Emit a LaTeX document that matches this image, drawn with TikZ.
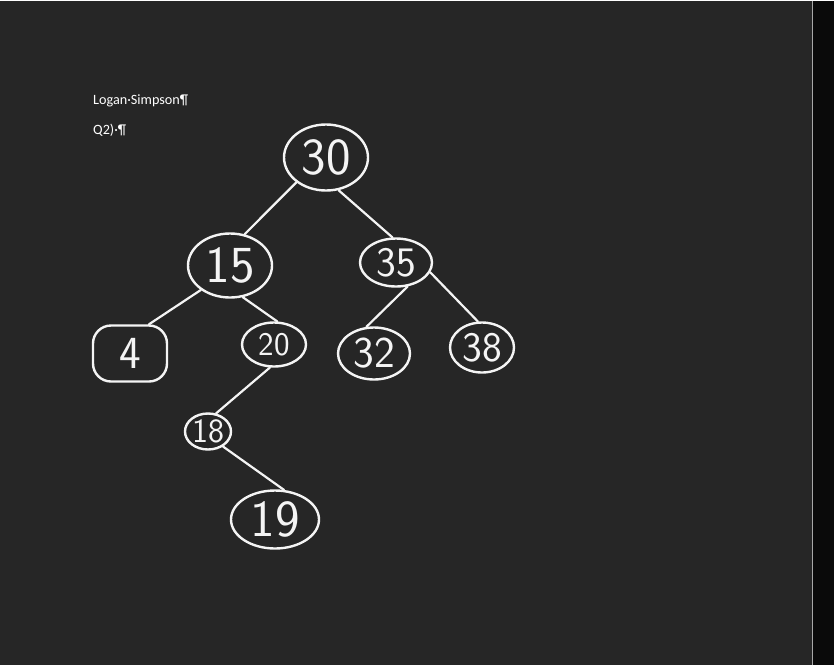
\documentclass[tikz,border=0pt]{standalone}
\usepackage{fontspec}
\setmainfont{Carlito}
\usetikzlibrary{shapes.geometric}
\definecolor{bg}{HTML}{262626}
\definecolor{side}{HTML}{0A0A0A}
\definecolor{ink}{HTML}{F4F4F4}
\definecolor{rule}{HTML}{A8A8A8}
\begin{document}
\begin{tikzpicture}[x=1pt,y=-1pt,
  bub/.style={ellipse,draw=ink,line width=2.4pt,inner sep=0pt},
  rbub/.style={rectangle,rounded corners=18pt,draw=ink,line width=2.4pt,inner sep=0pt},
  dig/.style={text=ink,inner sep=0pt,font=\sffamily\fontsize{#1}{#1}\selectfont},
  edge/.style={draw=ink,line width=2.2pt,line cap=round},
  doc/.style={anchor=base west,text=white,inner sep=0pt,font=\fontsize{14.2}{17}\selectfont}]
\fill[bg] (0,0) rectangle (834,664);
\fill[side] (813,0) rectangle (834,664);
\draw[rule,line width=1pt] (812.5,0) -- (812.5,664);
\useasboundingbox (0,0) rectangle (834,664);

\node[doc] (author) at (93,104) {Logan·Simpson¶};
\node[doc] (question) at (93,134) {Q2)·¶};

\node[bub,minimum width=84pt,minimum height=66pt,label={[dig=52]center:30}] (n30) at (326,157) {};
\node[bub,minimum width=84pt,minimum height=64pt,label={[dig=52]center:15}] (n15) at (230,265) {};
\node[bub,minimum width=72pt,minimum height=48pt,label={[dig=42]center:35}] (n35) at (396,262) {};
\node[rbub,minimum width=74pt,minimum height=56pt,label={[dig=46]center:4}] (n4) at (130,353) {};
\node[bub,minimum width=64pt,minimum height=44pt,label={[dig=33]center:20}] (n20) at (274,344) {};
\node[bub,minimum width=72pt,minimum height=52pt,label={[dig=44]center:32}] (n32) at (374,353) {};
\node[bub,minimum width=64pt,minimum height=50pt,label={[dig=42]center:38}] (n38) at (482,347) {};
\node[bub,minimum width=46pt,minimum height=36pt,label={[dig=34]center:18}] (n18) at (208,431) {};
\node[bub,minimum width=88pt,minimum height=58pt,label={[dig=52]center:19}] (n19) at (275,519) {};

\draw[edge] (n30.220) -- (n15.65);
\draw[edge] (n30.291) -- (n35.98);
\draw[edge] (n15.220) -- (n4.57);
\draw[edge] (n15.292) -- (n20.82);
\draw[edge] (n35.296) -- (n32.106);
\draw[edge] (n35.344) -- (n38.99);
\draw[edge] (n20.260) -- (n18.66);
\draw[edge] (n18.315) -- (n19.73);
\end{tikzpicture}
\end{document}
